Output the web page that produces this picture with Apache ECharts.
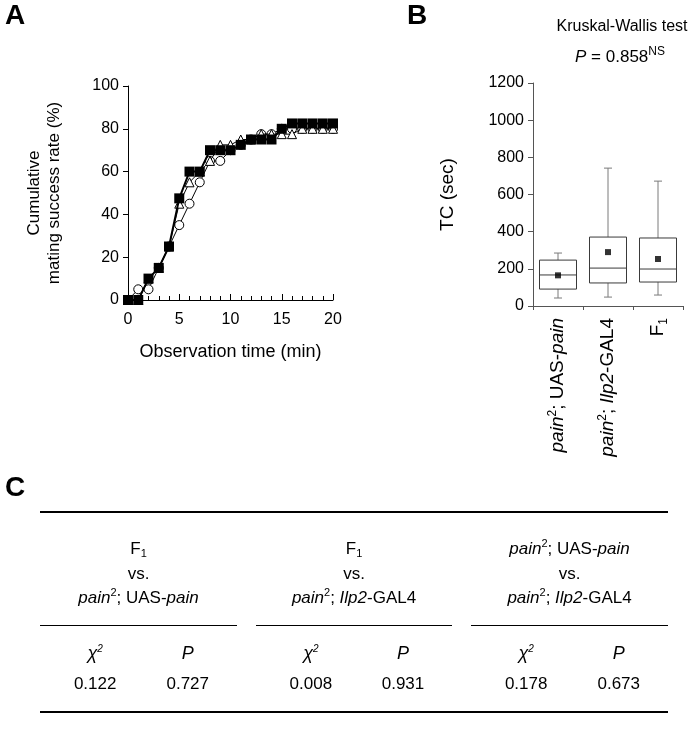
<!DOCTYPE html>
<html>
<head>
<meta charset="utf-8">
<script src="https://cdn.jsdelivr.net/npm/echarts@6/dist/echarts.min.js"></script>
<style>
html,body{margin:0;padding:0;background:#fff;}
#chart{width:689px;height:744px;}
</style>
</head>
<body>
<div id="chart"></div>
<script>
// ---- Panel A data ----
const timeMin = [0,1,2,3,4,5,6,7,8,9,10,11,12,13,14,15,16,17,18,19,20];
const squareRate   = [0,0,10,15,25,47.5,60,60,70,70,70,72.5,75,75,75,80,82.5,82.5,82.5,82.5,82.5];
const circleRate   = [0,5,5,15,25,35,45,55,65,65,70,72.5,75,77.5,77.5,80,80,80,80,80,80];
const triangleRate = [0,0,10,15,25,45,55,60,65,72.5,72.5,75,75,77.5,77.5,77.5,77.5,80,80,80,80];
const yTicksA = [0,20,40,60,80,100];
const xTicksA = [0,5,10,15,20];

// ---- Panel B data ----
const boxCategories = ['pain2; UAS-pain', 'pain2; Ilp2-GAL4', 'F1'];
const boxMin    = [43, 48, 59];
const boxQ1     = [91, 124, 129];
const boxMedian = [167, 204, 199];
const boxQ3     = [247, 371, 366];
const boxMax    = [285, 742, 672];
const boxMean   = [165, 290, 253];
const yTicksB = [0,200,400,600,800,1000,1200];

// ---- Panel C data ----
const compTop    = ['F1', 'F1', 'pain2; UAS-pain'];
const compBottom = ['pain2; UAS-pain', 'pain2; Ilp2-GAL4', 'pain2; Ilp2-GAL4'];
const chi2Values = ['0.122', '0.008', '0.178'];
const pValues    = ['0.727', '0.931', '0.673'];

const FONT = '"Liberation Sans", Arial, Helvetica, sans-serif';
const chart = echarts.init(document.getElementById('chart'), null, {renderer: 'canvas'});

const rawData = boxCategories.map((c, i) => [i, boxMin[i], boxQ1[i], boxMedian[i], boxQ3[i], boxMax[i]]);
const meanData = boxCategories.map((c, i) => [i, boxMean[i]]);

function genoRich(fs) {
  return {
    it: {fontStyle: 'italic', fontSize: fs, fontFamily: FONT, color: '#000'},
    n: {fontSize: fs, fontFamily: FONT, color: '#000'},
    sup: {fontSize: Math.round(fs * 0.62), fontFamily: FONT, color: '#000', verticalAlign: 'top', lineHeight: fs * 1.2},
    sub: {fontSize: Math.round(fs * 0.62), fontFamily: FONT, color: '#000', verticalAlign: 'bottom', lineHeight: fs * 1.2}
  };
}
function genoText(label) {
  if (label === 'F1') return '{n|F}{sub|1}';
  if (label === 'pain2; UAS-pain') return '{it|pain}{sup|2}{n|; UAS-}{it|pain}';
  if (label === 'pain2; Ilp2-GAL4') return '{it|pain}{sup|2}{n|; }{it|Ilp2}{n|-GAL4}';
  return '{n|' + label + '}';
}

// table graphic
const tableGraphics = [];
const tL = 40, tR = 668;
const segs = [[40, 237], [256, 452], [471, 668]];
const yTop = 512, yF = 549, yVs = 574, yG = 598, ySeg = 625.5, yChi = 654, yNum = 684, yBot = 712;
tableGraphics.push({type: 'line', shape: {x1: tL, y1: yTop, x2: tR, y2: yTop}, style: {stroke: '#000', lineWidth: 2}});
tableGraphics.push({type: 'line', shape: {x1: tL, y1: yBot, x2: tR, y2: yBot}, style: {stroke: '#000', lineWidth: 2}});
segs.forEach((s, i) => {
  const cx = (s[0] + s[1]) / 2;
  const w = s[1] - s[0];
  tableGraphics.push({type: 'line', shape: {x1: s[0], y1: ySeg, x2: s[1], y2: ySeg}, style: {stroke: '#000', lineWidth: 1}});
  const mk = (txt, y) => ({type: 'text', x: cx, y: y, style: {text: genoText(txt), rich: genoRich(17), align: 'center', verticalAlign: 'middle', font: '17px ' + FONT}});
  tableGraphics.push(mk(compTop[i], yF));
  tableGraphics.push({type: 'text', x: cx, y: yVs, style: {text: 'vs.', align: 'center', verticalAlign: 'middle', font: '17px ' + FONT, fill: '#000'}});
  tableGraphics.push(mk(compBottom[i], yG));
  const xc = s[0] + w * 0.28, xp = s[0] + w * 0.75;
  tableGraphics.push({type: 'text', x: xc, y: yChi, style: {text: '{c|χ}{s|2}', rich: {c: {fontStyle: 'italic', fontSize: 18, fontFamily: FONT}, s: {fontStyle: 'italic', fontSize: 10, fontFamily: FONT, verticalAlign: 'top', lineHeight: 20}}, align: 'center', verticalAlign: 'middle'}});
  tableGraphics.push({type: 'text', x: xp, y: yChi, style: {text: 'P', align: 'center', verticalAlign: 'middle', font: 'italic 18px ' + FONT, fill: '#000'}});
  tableGraphics.push({type: 'text', x: xc, y: yNum, style: {text: chi2Values[i], align: 'center', verticalAlign: 'middle', font: '17px ' + FONT, fill: '#000'}});
  tableGraphics.push({type: 'text', x: xp, y: yNum, style: {text: pValues[i], align: 'center', verticalAlign: 'middle', font: '17px ' + FONT, fill: '#000'}});
});

const option = {
  backgroundColor: '#fff',
  animation: false,
  textStyle: {fontFamily: FONT},
  grid: [
    {left: 128, top: 86, width: 205, height: 214},
    {left: 533, top: 83, width: 150, height: 223}
  ],
  xAxis: [
    {
      gridIndex: 0, type: 'value', min: 0, max: 20, interval: 5,
      name: 'Observation time (min)', nameLocation: 'middle', nameGap: 43,
      nameTextStyle: {fontSize: 18, color: '#000', fontFamily: FONT},
      axisLine: {lineStyle: {color: '#000', width: 1}},
      axisTick: {show: true, inside: true, length: 6, lineStyle: {color: '#000'}},
      minorTick: {show: true, splitNumber: 5, length: 4, lineStyle: {color: '#000'}},
      axisLabel: {fontSize: 16, color: '#000', margin: 12, fontFamily: FONT},
      splitLine: {show: false}
    },
    {
      gridIndex: 1, type: 'category', data: boxCategories,
      axisLine: {lineStyle: {color: '#555', width: 1}},
      axisTick: {show: true, length: 4, lineStyle: {color: '#555'}},
      axisLabel: {rotate: 90, fontSize: 19, margin: 12, color: '#000', interval: 0,
        formatter: v => genoText(v), rich: genoRich(19)},
      splitLine: {show: false}
    }
  ],
  yAxis: [
    {
      gridIndex: 0, type: 'value', min: 0, max: 100, interval: 20,
      name: 'Cumulative\nmating success rate (%)', nameLocation: 'middle', nameGap: 64,
      nameTextStyle: {fontSize: 17, color: '#000', lineHeight: 20, fontFamily: FONT, align: 'center'},
      axisLine: {show: true, lineStyle: {color: '#000', width: 1}},
      axisTick: {show: true, length: 5, lineStyle: {color: '#000'}},
      axisLabel: {fontSize: 16, color: '#000', margin: 9, fontFamily: FONT},
      splitLine: {show: false}
    },
    {
      gridIndex: 1, type: 'value', min: 0, max: 1200, interval: 200,
      name: 'TC (sec)', nameLocation: 'middle', nameGap: 76,
      nameTextStyle: {fontSize: 19, color: '#000', fontFamily: FONT},
      axisLine: {show: true, lineStyle: {color: '#555', width: 1}},
      axisTick: {show: true, length: 5, lineStyle: {color: '#555'}},
      axisLabel: {fontSize: 16, color: '#000', margin: 9, fontFamily: FONT, formatter: v => String(v)},
      splitLine: {show: false}
    }
  ],
  graphic: [
    {type: 'text', left: 5, top: 2, style: {text: 'A', font: 'bold 28px ' + FONT, fill: '#000'}},
    {type: 'text', left: 407, top: 2, style: {text: 'B', font: 'bold 28px ' + FONT, fill: '#000'}},
    {type: 'text', left: 5, top: 474, style: {text: 'C', font: 'bold 28px ' + FONT, fill: '#000'}},
    {type: 'text', x: 622, y: 27, style: {text: 'Kruskal-Wallis test', align: 'center', verticalAlign: 'middle', font: '16px ' + FONT, fill: '#000'}},
    {type: 'text', x: 620, y: 57, style: {text: '{it|P}{n| = 0.858}{sup|NS}', align: 'center', verticalAlign: 'middle',
      rich: {it: {fontStyle: 'italic', fontSize: 17, fontFamily: FONT}, n: {fontSize: 17, fontFamily: FONT}, sup: {fontSize: 12, fontFamily: FONT, verticalAlign: 'top', lineHeight: 22}}}},
    ...tableGraphics
  ],
  series: [
    {
      name: 'open circles', type: 'line', xAxisIndex: 0, yAxisIndex: 0,
      data: timeMin.map((t, i) => [t, circleRate[i]]),
      symbol: 'circle', symbolSize: 9, showAllSymbol: true,
      lineStyle: {color: '#000', width: 1},
      itemStyle: {color: '#fff', borderColor: '#000', borderWidth: 1}, z: 2
    },
    {
      name: 'open triangles', type: 'line', xAxisIndex: 0, yAxisIndex: 0,
      data: timeMin.map((t, i) => [t, triangleRate[i]]),
      symbol: 'triangle', symbolSize: 9, showAllSymbol: true,
      lineStyle: {color: '#000', width: 1},
      itemStyle: {color: '#fff', borderColor: '#000', borderWidth: 1}, z: 3
    },
    {
      name: 'filled squares', type: 'line', xAxisIndex: 0, yAxisIndex: 0,
      data: timeMin.map((t, i) => [t, squareRate[i]]),
      symbol: 'rect', symbolSize: 10, showAllSymbol: true,
      lineStyle: {color: '#000', width: 2},
      itemStyle: {color: '#000', borderColor: '#000', borderWidth: 0}, z: 4
    },
    {
      name: 'TC box', type: 'custom', xAxisIndex: 1, yAxisIndex: 1,
      data: rawData,
      encode: {x: 0, y: [1, 2, 3, 4, 5]},
      renderItem: function (params, api) {
        const x = api.value(0);
        const pMin = api.coord([x, api.value(1)]);
        const pQ1 = api.coord([x, api.value(2)]);
        const pMed = api.coord([x, api.value(3)]);
        const pQ3 = api.coord([x, api.value(4)]);
        const pMax = api.coord([x, api.value(5)]);
        const band = api.size([1, 0])[0];
        const bw = band * 0.74;
        const cx = pMed[0];
        const cap = 4;
        const wc = '#7a7a7a', bc = '#3a3a3a';
        return {
          type: 'group',
          children: [
            {type: 'line', shape: {x1: cx, y1: pMax[1], x2: cx, y2: pQ3[1]}, style: {stroke: wc, lineWidth: 1}},
            {type: 'line', shape: {x1: cx - cap, y1: pMax[1], x2: cx + cap, y2: pMax[1]}, style: {stroke: wc, lineWidth: 1}},
            {type: 'line', shape: {x1: cx, y1: pQ1[1], x2: cx, y2: pMin[1]}, style: {stroke: wc, lineWidth: 1}},
            {type: 'line', shape: {x1: cx - cap, y1: pMin[1], x2: cx + cap, y2: pMin[1]}, style: {stroke: wc, lineWidth: 1}},
            {type: 'rect', shape: {x: cx - bw / 2, y: pQ3[1], width: bw, height: pQ1[1] - pQ3[1]}, style: {fill: '#fff', stroke: bc, lineWidth: 1}},
            {type: 'line', shape: {x1: cx - bw / 2, y1: pMed[1], x2: cx + bw / 2, y2: pMed[1]}, style: {stroke: bc, lineWidth: 1}}
          ]
        };
      },
      z: 2
    },
    {
      name: 'TC mean', type: 'scatter', xAxisIndex: 1, yAxisIndex: 1,
      data: meanData, symbol: 'rect', symbolSize: 6,
      itemStyle: {color: '#000'}, z: 5
    }
  ]
};
chart.setOption(option);
</script>
</body>
</html>
